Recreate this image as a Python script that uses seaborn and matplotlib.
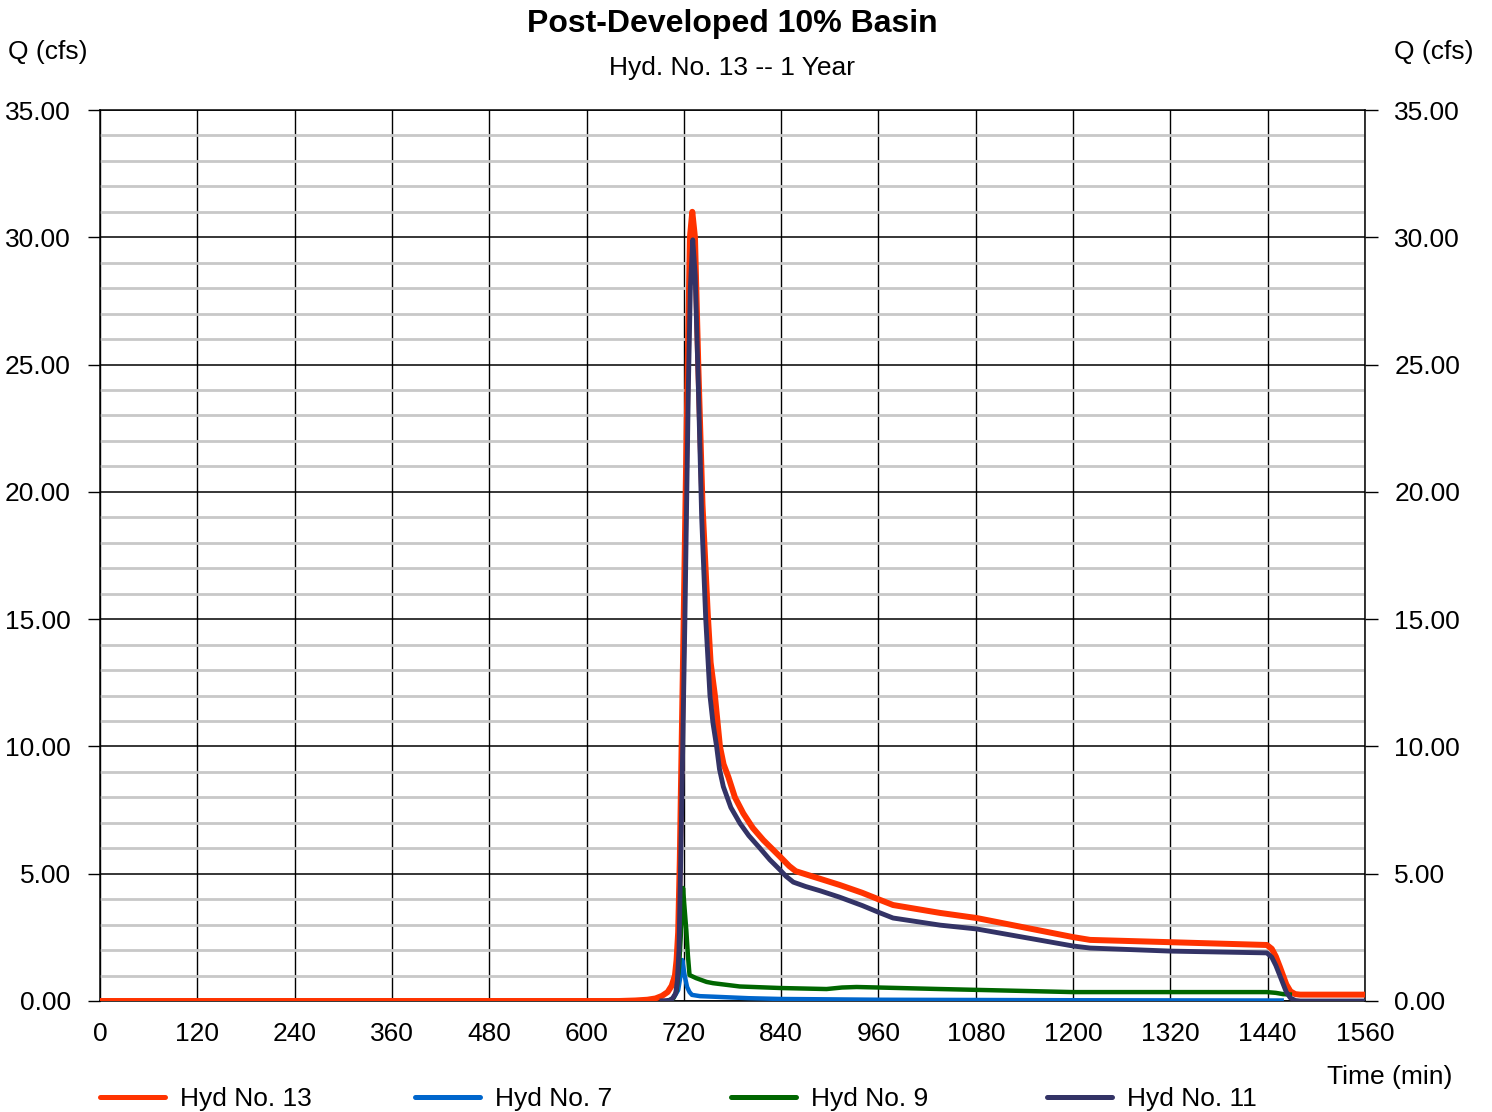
import numpy as np
import pandas as pd
import matplotlib
matplotlib.use("Agg")
import matplotlib.pyplot as plt
from matplotlib.lines import Line2D
from matplotlib.ticker import MultipleLocator
import seaborn as sns

# Hydrograph ordinates (time in min, flow in cfs)
t_13 = [0, 640, 660, 675, 685, 693, 700, 705, 709, 711, 713, 715, 717, 719.8, 722, 724.8, 727.5,
        730.4, 733.7, 737.8, 743, 749.5, 753, 758.3, 764.5, 769, 774.9, 783, 793.3, 805, 818,
        838.6, 850, 858, 888, 912, 940, 962, 978, 1036, 1081, 1200, 1221, 1320, 1439, 1445,
        1450, 1455, 1463, 1468, 1474, 1480, 1560]
q_13 = [0.0, 0.0, 0.02, 0.05, 0.1, 0.2, 0.35, 0.6, 1.0, 1.6, 2.7, 5.5, 9.5, 15.0, 19.5, 25.0, 30.0,
        31.0, 30.0, 25.0, 19.5, 15.2, 13.3, 12.0, 10.0, 9.3, 8.8, 8.0, 7.37, 6.8, 6.32,
        5.67, 5.3, 5.1, 4.8, 4.56, 4.25, 3.97, 3.77, 3.46, 3.26, 2.51, 2.40, 2.31, 2.20, 2.05,
        1.75, 1.34, 0.65, 0.38, 0.27, 0.25, 0.25]

t_7 = [700, 703, 708, 713, 716, 718, 721, 724, 727, 730, 740, 756, 800, 839, 960, 1200, 1440, 1460]
q_7 = [0.0, 0.04, 0.15, 0.43, 1.0, 1.61, 1.0, 0.55, 0.35, 0.24, 0.19, 0.17, 0.11, 0.08, 0.05, 0.03, 0.02, 0.02]

t_9 = [700, 707, 711, 714, 717, 719, 721, 723, 725, 727, 735, 748, 756, 789, 839, 896, 915, 933, 960,
       1036, 1200, 1439, 1450, 1459, 1470]
q_9 = [0.0, 0.1, 0.4, 1.3, 3.0, 4.44, 3.6, 2.8, 1.8, 1.02, 0.9, 0.75, 0.70, 0.57, 0.51, 0.47, 0.53, 0.55, 0.53,
       0.47, 0.35, 0.35, 0.32, 0.27, 0.25]

t_11 = [690, 700, 705, 710, 712, 714, 717, 721.3, 725.5, 728, 731, 734, 738, 742, 747, 752.2, 756,
        760.4, 764, 768.7, 778, 789.2, 800, 813.9, 826, 838.6, 846, 855, 870, 888, 912, 940, 962,
        978, 1036, 1081, 1200, 1221, 1320, 1439, 1445, 1450, 1455, 1463, 1468, 1474, 1480, 1560]
q_11 = [0.0, 0.02, 0.05, 0.3, 0.8, 2.0, 7.0, 15.0, 24.0, 28.0, 29.9, 28.5, 24.0, 19.0, 15.0, 12.0, 10.9,
        10.0, 9.1, 8.42, 7.6, 6.98, 6.5, 6.0, 5.55, 5.15, 4.9, 4.67, 4.5, 4.33, 4.08, 3.75, 3.46,
        3.26, 2.98, 2.83, 2.16, 2.08, 1.96, 1.89, 1.72, 1.40, 1.00, 0.35, 0.12, 0.02, 0.0, 0.0]

series_names = ["Hyd No. 13", "Hyd No. 7", "Hyd No. 9", "Hyd No. 11"]
series_colors = ["#FF3300", "#0066CC", "#006600", "#333366"]
series_widths = [4.3, 3.2, 3.2, 3.5]

x_ticks = list(range(0, 1561, 120))
y_ticks = [0, 5, 10, 15, 20, 25, 30, 35]

sns.set_style("white")
plt.rcParams["font.family"] = ["Liberation Sans", "DejaVu Sans"]
plt.rcParams["text.color"] = "black"
plt.rcParams["xtick.color"] = "black"
plt.rcParams["ytick.color"] = "black"
plt.rcParams["axes.labelcolor"] = "black"

W, H = 1492, 1112
fig = plt.figure(figsize=(W / 100, H / 100), dpi=100)
ax = fig.add_axes([100 / W, 1 - 1001 / H, 1265 / W, 891 / H])

frames = []
for name, t, q in zip(series_names, [t_13, t_7, t_9, t_11], [q_13, q_7, q_9, q_11]):
    frames.append(pd.DataFrame({"Time": t, "Q": q, "Hyd": name}))
df = pd.concat(frames, ignore_index=True)

for name, color, lw in zip(series_names, series_colors, series_widths):
    sub = df[df["Hyd"] == name]
    sns.lineplot(data=sub, x="Time", y="Q", color=color, linewidth=lw, ax=ax,
                 legend=False, zorder=5, solid_joinstyle="round", solid_capstyle="butt")

ax.set_xlim(0, 1560)
ax.set_ylim(0, 35)
ax.set_xlabel("")
ax.set_ylabel("")

# grid: light minor lines every 1 cfs, black major lines every 5 cfs and 120 min
ax.yaxis.set_minor_locator(MultipleLocator(1))
ax.grid(which="minor", axis="y", color="#c8c8c8", linewidth=2.0, zorder=1)
ax.grid(which="major", axis="y", color="black", linewidth=1.1, zorder=2)
ax.grid(which="major", axis="x", color="black", linewidth=1.0, zorder=2)
ax.set_axisbelow(True)

ax.set_xticks(x_ticks)
ax.set_yticks(y_ticks)
ax.set_yticklabels([f"{v:.2f}" for v in y_ticks])
ax.set_xticklabels([str(v) for v in x_ticks])

ax.tick_params(axis="y", which="major", direction="out", length=9, width=1.0,
               labelsize=19, pad=12, left=True, right=True, labelright=True,
               color="black", labelcolor="black")
ax.tick_params(axis="y", which="minor", length=0)
ax.tick_params(axis="x", which="major", length=0, labelsize=19, pad=15, labelcolor="black")

for sp in ax.spines.values():
    sp.set_visible(True)
    sp.set_color("black")
    sp.set_linewidth(1.1)

def fx(px):
    return px / W

def fy(py):
    return 1 - py / H

fig.text(fx(732), fy(24), "Post-Developed 10% Basin", ha="center", va="center",
         fontsize=23, fontweight="bold", color="black")
fig.text(fx(732), fy(68), "Hyd. No. 13 -- 1 Year", ha="center", va="center", fontsize=19,
         color="black")
fig.text(fx(8), fy(52), "Q (cfs)", ha="left", va="center", fontsize=19, color="black")
fig.text(fx(1474), fy(52), "Q (cfs)", ha="right", va="center", fontsize=19, color="black")
fig.text(fx(1452), fy(1077), "Time (min)", ha="right", va="center", fontsize=19, color="black")

legend_x = [100, 415, 731, 1047]
for name, color, lx in zip(series_names, series_colors, legend_x):
    handle = Line2D([], [], color=color, linewidth=3.6)
    leg = fig.legend(handles=[handle], labels=[name], loc="center left",
                     bbox_to_anchor=(fx(lx), fy(1099)), frameon=False, fontsize=19,
                     handlelength=2.46, handletextpad=0.57, borderpad=0, borderaxespad=0,
                     labelcolor="black")

fig.savefig("out.png", dpi=100)
